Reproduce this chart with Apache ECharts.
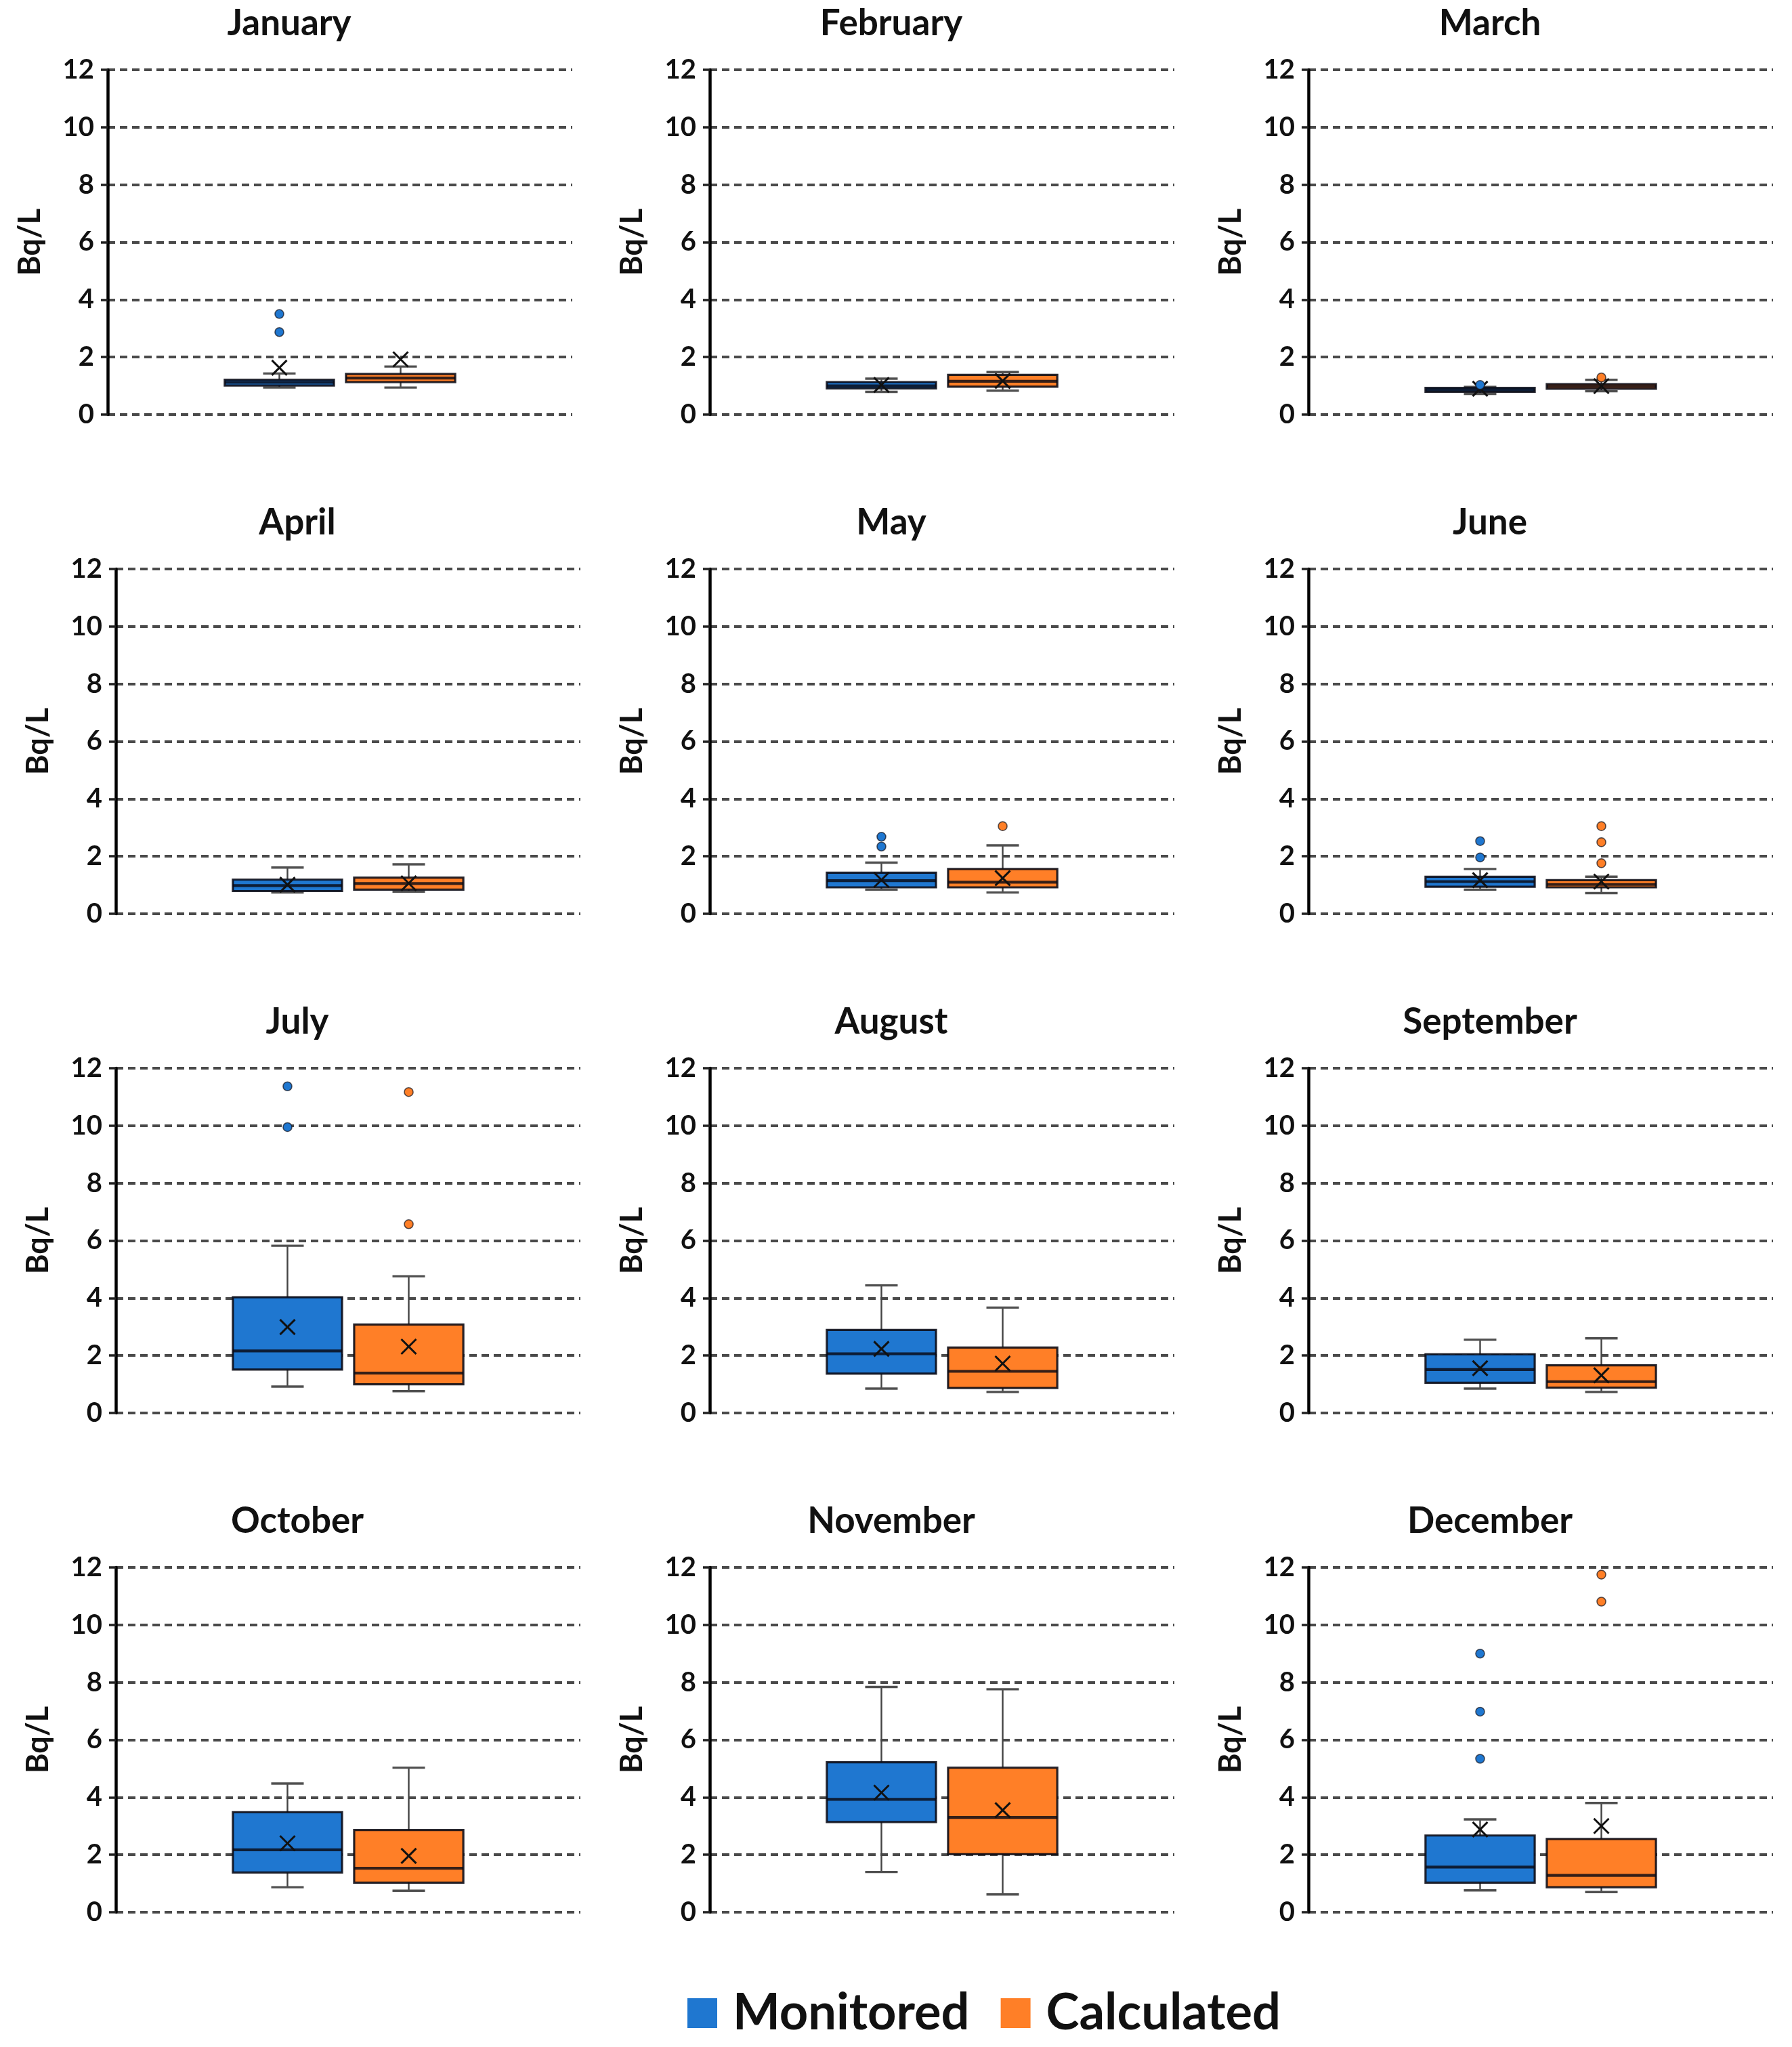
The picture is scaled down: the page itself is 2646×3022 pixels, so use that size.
<!DOCTYPE html>
<html><head><meta charset="utf-8">
<script src="https://cdn.jsdelivr.net/npm/echarts@6/dist/echarts.min.js"></script>
<style>html,body{margin:0;padding:0;background:#fff}#c{width:2646px;height:3022px}</style>
</head><body><div id="c"></div>
<script>
// ---------- data ----------
const months = ['January','February','March','April','May','June','July','August','September','October','November','December'];
const yTicks = [0, 2, 4, 6, 8, 10, 12];
const seriesNames = ['Monitored', 'Calculated'];
// [min whisker, Q1, median, Q3, max whisker]
const monitoredBox = [
  [0.94, 1.01, 1.12, 1.21, 1.43],
  [0.79, 0.91, 1.00, 1.13, 1.25],
  [0.72, 0.79, 0.85, 0.93, 0.96],
  [0.74, 0.79, 0.98, 1.19, 1.61],
  [0.84, 0.92, 1.15, 1.43, 1.78],
  [0.84, 0.94, 1.12, 1.29, 1.56],
  [0.92, 1.51, 2.16, 4.03, 5.82],
  [0.85, 1.37, 2.06, 2.89, 4.44],
  [0.85, 1.05, 1.51, 2.04, 2.55],
  [0.87, 1.38, 2.17, 3.48, 4.48],
  [1.40, 3.14, 3.93, 5.22, 7.84],
  [0.76, 1.03, 1.57, 2.67, 3.23]
];
const calculatedBox = [
  [0.94, 1.13, 1.27, 1.41, 1.67],
  [0.83, 0.97, 1.16, 1.38, 1.48],
  [0.81, 0.90, 0.98, 1.06, 1.21],
  [0.77, 0.84, 1.05, 1.26, 1.72],
  [0.74, 0.92, 1.10, 1.56, 2.38],
  [0.72, 0.92, 1.02, 1.17, 1.29],
  [0.76, 1.00, 1.39, 3.08, 4.76],
  [0.73, 0.87, 1.45, 2.28, 3.67],
  [0.73, 0.88, 1.09, 1.66, 2.60],
  [0.75, 1.03, 1.53, 2.86, 5.03],
  [0.62, 2.02, 3.30, 5.03, 7.76],
  [0.70, 0.87, 1.28, 2.55, 3.80]
];
const monitoredMean  = [1.63, 1.03, 0.90, 1.01, 1.18, 1.17, 2.99, 2.23, 1.56, 2.40, 4.16, 2.88];
const calculatedMean = [1.92, 1.17, 0.99, 1.06, 1.24, 1.12, 2.31, 1.72, 1.31, 1.96, 3.55, 3.00];
const monitoredOutliers = [[2.87, 3.5], [], [1.03], [], [2.34, 2.68], [1.96, 2.53], [9.95, 11.37], [], [], [], [], [5.34, 6.98, 9.0]];
const calculatedOutliers = [[], [], [1.29], [], [3.05], [1.76, 2.49, 3.05], [6.57, 11.17], [], [], [], [], [10.81, 11.75]];

// ---------- style / layout ----------
const FONT = 'Lato, "Open Sans", "DejaVu Sans", sans-serif';
const COLORS = ['#1f77d0', '#ff7f27'];
const GROUP_OFFSET = 0.1305;   // fraction of the category band
const BOX_HALF = 0.1175;
const CAP_HALF = 0.035;
const rowTops = [103, 840, 1577, 2314];
const gridH = 509;
const gridW = 686;
function gridLeft(r, c) {
  if (c === 0) return r === 0 ? 159 : 171;
  return c === 1 ? 1048 : 1932;
}

function makeRender(gi, outliers) {
  const sign = gi === 0 ? -1 : 1;
  const fill = COLORS[gi];
  return function (params, api) {
    const band = api.size([1, 0])[0];
    const cx = api.coord([0, 0])[0] + sign * band * GROUP_OFFSET;
    const yv = k => api.coord([0, api.value(k)])[1];
    const yMin = yv(1), yQ1 = yv(2), yMed = yv(3), yQ3 = yv(4), yMax = yv(5), yMean = yv(6);
    const hw = band * BOX_HALF, cw = band * CAP_HALF;
    const whisk = { stroke: '#444', lineWidth: 2.4 };
    const cap = { stroke: '#505050', lineWidth: 3.4 };
    const children = [
      { type: 'line', shape: { x1: cx, y1: yMax, x2: cx, y2: yQ3 }, style: whisk },
      { type: 'line', shape: { x1: cx, y1: yQ1, x2: cx, y2: yMin }, style: whisk },
      { type: 'line', shape: { x1: cx - cw, y1: yMax, x2: cx + cw, y2: yMax }, style: cap },
      { type: 'line', shape: { x1: cx - cw, y1: yMin, x2: cx + cw, y2: yMin }, style: cap },
      { type: 'rect', shape: { x: cx - hw, y: yQ3, width: 2 * hw, height: yQ1 - yQ3 },
        style: { fill: fill, stroke: 'rgba(10,10,20,0.88)', lineWidth: 3.2 } },
      { type: 'line', shape: { x1: cx - hw, y1: yMed, x2: cx + hw, y2: yMed },
        style: { stroke: 'rgba(10,10,20,0.82)', lineWidth: 4.2 } }
    ];
    const m = 11;
    children.push({ type: 'line', shape: { x1: cx - m, y1: yMean - m, x2: cx + m, y2: yMean + m }, style: { stroke: '#111', lineWidth: 3 } });
    children.push({ type: 'line', shape: { x1: cx - m, y1: yMean + m, x2: cx + m, y2: yMean - m }, style: { stroke: '#111', lineWidth: 3 } });
    outliers.forEach(v => {
      const p = api.coord([0, v]);
      children.push({ type: 'circle', shape: { cx: cx, cy: p[1], r: 6.5 },
        style: { fill: fill, stroke: 'rgba(20,20,30,0.7)', lineWidth: 1.6 } });
    });
    return { type: 'group', children: children };
  };
}

const grids = [], xAxes = [], yAxes = [], series = [], graphics = [];
months.forEach((name, i) => {
  const r = Math.floor(i / 3), c = i % 3;
  const left = gridLeft(r, c), top = rowTops[r];
  grids.push({ left: left, top: top, width: gridW, height: gridH, containLabel: false });
  xAxes.push({ type: 'category', gridIndex: i, data: [name], show: false });
  yAxes.push({
    type: 'value', gridIndex: i, min: yTicks[0], max: yTicks[yTicks.length - 1], interval: 2,
    axisLine: { show: true, lineStyle: { color: '#000', width: 4.5 } },
    axisTick: { show: true, length: 10, lineStyle: { color: '#222', width: 3.5 } },
    axisLabel: { fontFamily: FONT, fontWeight: 'bold', fontSize: 40, color: '#111', margin: 20 },
    splitLine: { show: true, lineStyle: { color: '#4a4a4a', width: 4.2, type: [11, 7] } },
    name: 'Bq/L', nameLocation: 'middle', nameRotate: 90, nameGap: 92,
    nameTextStyle: { fontFamily: FONT, fontWeight: 'bold', fontSize: 45, color: '#111' }
  });
  [monitoredBox, calculatedBox].forEach((boxes, gi) => {
    const mean = gi === 0 ? monitoredMean : calculatedMean;
    const outs = gi === 0 ? monitoredOutliers : calculatedOutliers;
    series.push({
      type: 'custom', name: seriesNames[gi], xAxisIndex: i, yAxisIndex: i,
      itemStyle: { color: COLORS[gi] },
      encode: { x: 0, y: 1 },
      data: [[0].concat(boxes[i], [mean[i]])],
      renderItem: makeRender(gi, outs[i]),
      silent: true, animation: false
    });
  });
  graphics.push({
    type: 'text', x: left + gridW / 2 - 75, y: top - 68,
    style: { text: name, fontFamily: FONT, fontWeight: 'bold', fontSize: 53, fill: '#111',
      align: 'center', verticalAlign: 'middle' }
  });
});

const chart = echarts.init(document.getElementById('c'), null, { renderer: 'canvas' });
chart.setOption({
  backgroundColor: '#fff',
  animation: false,
  grid: grids, xAxis: xAxes, yAxis: yAxes, series: series,
  graphic: graphics,
  legend: {
    data: seriesNames, left: 1010, top: 2930, icon: 'rect', itemWidth: 44, itemHeight: 44, itemGap: 46,
    textStyle: { fontFamily: FONT, fontWeight: 'bold', fontSize: 74, color: '#111', padding: [0, 0, 0, 18] }
  }
});
</script></body></html>
